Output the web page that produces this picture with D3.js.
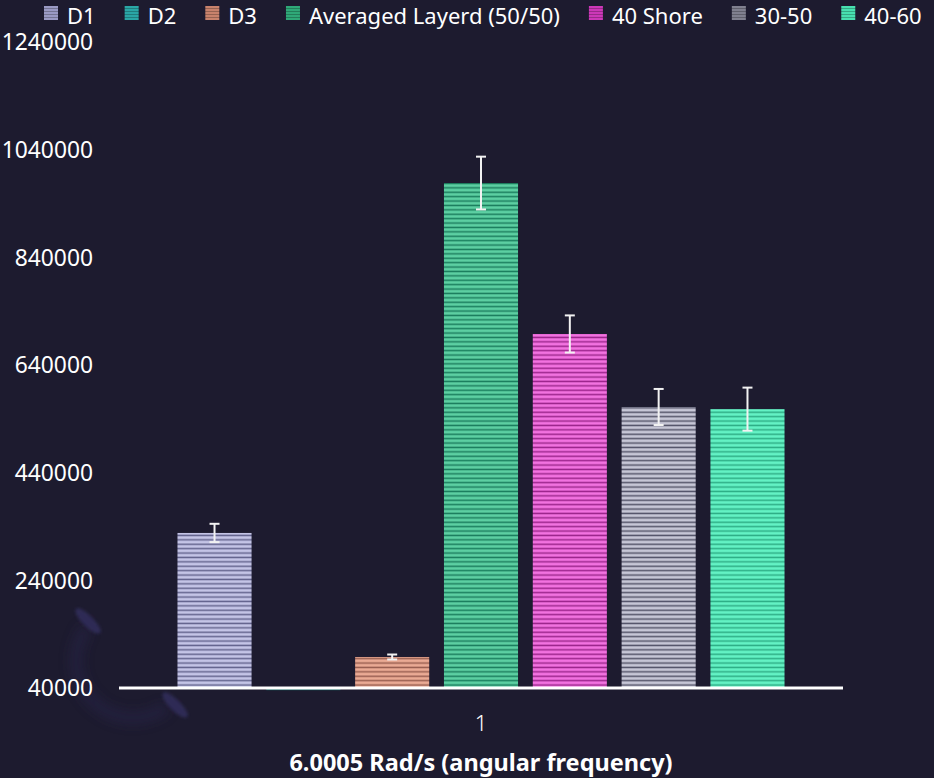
<!DOCTYPE html>
<html>
<head>
<meta charset="utf-8">
<script src="https://cdn.jsdelivr.net/npm/d3@7"></script>
<style>
  html, body { margin: 0; padding: 0; background: #1d1b2f; }
  svg { display: block; }
  text { font-family: "Noto Sans", "Open Sans", sans-serif; fill: #ffffff; }
</style>
</head>
<body>
<svg id="chart" width="934" height="778"></svg>
<script>
// ---------- data ----------
const categories = ["1"];
const seriesNames = ["D1", "D2", "D3", "Averaged Layerd (50/50)", "40 Shore", "30-50", "40-60"];
const seriesValues = [328000, 36000, 97600, 978000, 697600, 562000, 558000];
const seriesErrors = [17000, 0, 4600, 49000, 34500, 33500, 40000];
const yTicks = [40000, 240000, 440000, 640000, 840000, 1040000, 1240000];
const xTitle = "6.0005 Rad/s (angular frequency)";
const lightColors = ["#c4c4e6", "#3cc2c2", "#eaaa94", "#5ccfa2", "#f272e0", "#c6c6d6", "#64f2c4"];
const darkColors  = ["#64648e", "#1c7676", "#985e50", "#1c7e5e", "#9c268c", "#55556a", "#2eae86"];
const legendColors = ["#9a9ac4", "#2aa6a6", "#c8826c", "#2fa878", "#cc38b8", "#80808f", "#48e0b0"];

// ---------- setup ----------
const svg = d3.select("#chart");
const W = 934, H = 778;
const FONT = "'Noto Sans', 'Open Sans', sans-serif";
svg.append("rect").attr("width", W).attr("height", H).attr("fill", "#1d1b2f");

const defs = svg.append("defs");
seriesNames.forEach((s, i) => {
  const p = defs.append("pattern").attr("id", "pat" + i)
    .attr("patternUnits", "userSpaceOnUse").attr("width", 8).attr("height", 4.4);
  p.append("rect").attr("width", 8).attr("height", 4.4).attr("fill", lightColors[i]);
  p.append("rect").attr("y", 2.4).attr("width", 8).attr("height", 1.4).attr("fill", darkColors[i]);
  p.append("rect").attr("y", 2.0).attr("width", 8).attr("height", 0.5).attr("fill", d3.interpolateRgb(lightColors[i], darkColors[i])(0.5));
});
const blur = defs.append("filter").attr("id", "soft").attr("x", "-20%").attr("y", "-20%").attr("width", "140%").attr("height", "140%");
blur.append("feGaussianBlur").attr("stdDeviation", 0.5);
const bigBlur = defs.append("filter").attr("id", "deco").attr("x", "-50%").attr("y", "-50%").attr("width", "200%").attr("height", "200%");
bigBlur.append("feGaussianBlur").attr("stdDeviation", 6);
const smallBlur = defs.append("filter").attr("id", "deco2").attr("x", "-50%").attr("y", "-50%").attr("width", "200%").attr("height", "200%");
smallBlur.append("feGaussianBlur").attr("stdDeviation", 1.5);

// ---------- decorative watermark ----------
const deco = svg.append("g").attr("transform", "translate(133,661)");
const arc = d3.arc().innerRadius(51).outerRadius(63).startAngle(Math.PI * 0.8).endAngle(Math.PI * 1.7);
deco.append("path").attr("d", arc()).attr("fill", "#2a2850").attr("opacity", 0.45).attr("filter", "url(#deco)");
deco.append("ellipse").attr("cx", -45).attr("cy", -40).attr("rx", 17).attr("ry", 5.5)
  .attr("transform", "rotate(45,-45,-40)").attr("fill", "#2d2a54").attr("filter", "url(#deco2)");
deco.append("ellipse").attr("cx", 42).attr("cy", 44).attr("rx", 17).attr("ry", 5.5)
  .attr("transform", "rotate(45,42,44)").attr("fill", "#2d2a54").attr("filter", "url(#deco2)");

// ---------- scales ----------
const plotLeft = 119, plotRight = 843;
const y = d3.scaleLinear().domain([40000, 1240000]).range([688, 42]);
const x0 = d3.scaleBand().domain(categories).range([plotLeft, plotRight]).paddingInner(0).paddingOuter(0.0822);
const x1 = d3.scaleBand().domain(seriesNames).range([0, x0.bandwidth()]).paddingInner(0.166).paddingOuter(0.083);

// ---------- y axis labels ----------
const yAxis = d3.axisLeft(y).tickValues(yTicks).tickSize(0).tickPadding(0).tickFormat(d3.format("d"));
const yG = svg.append("g").attr("transform", "translate(93,0)").call(yAxis);
yG.select(".domain").remove();
yG.selectAll("text").attr("font-size", 22.8).attr("fill", "#ffffff").attr("dy", "0.34em")
  .style("font-family", FONT);

// ---------- bars ----------
const gBars = svg.append("g");
categories.forEach(cat => {
  seriesNames.forEach((s, i) => {
    const v = seriesValues[i];
    const bx = x0(cat) + x1(s);
    const y0 = y(40000), yv = y(v);
    gBars.append("rect")
      .attr("x", bx).attr("width", x1.bandwidth())
      .attr("y", Math.min(y0, yv)).attr("height", Math.abs(y0 - yv))
      .attr("fill", i === 1 ? "#1a6e6a" : `url(#pat${i})`)
      .attr("filter", "url(#soft)");
  });
});

// ---------- axis line ----------
svg.append("line").attr("x1", plotLeft).attr("x2", plotRight)
  .attr("y1", y(40000)).attr("y2", y(40000))
  .attr("stroke", "#ffffff").attr("stroke-width", 3);

// ---------- error bars ----------
const gErr = svg.append("g").attr("stroke", "#f2f2f2").attr("stroke-width", 2);
categories.forEach(cat => {
  seriesNames.forEach((s, i) => {
    const e = seriesErrors[i];
    if (!e) return;
    const cx = x0(cat) + x1(s) + x1.bandwidth() / 2;
    const v = seriesValues[i];
    const top = y(v + e), bot = y(v - e);
    gErr.append("line").attr("x1", cx).attr("x2", cx).attr("y1", top).attr("y2", bot);
    gErr.append("line").attr("x1", cx - 5).attr("x2", cx + 5).attr("y1", top).attr("y2", top);
    gErr.append("line").attr("x1", cx - 5).attr("x2", cx + 5).attr("y1", bot).attr("y2", bot);
  });
});

// ---------- x axis label ----------
categories.forEach(cat => {
  svg.append("text").attr("x", x0(cat) + x0.bandwidth() / 2).attr("y", 731)
    .attr("text-anchor", "middle").attr("font-size", 22).attr("font-weight", 300).text(cat);
});
svg.append("text").attr("x", (plotLeft + plotRight) / 2).attr("y", 771)
  .attr("text-anchor", "middle").attr("font-size", 23.5).attr("font-weight", "bold").text(xTitle);

// ---------- legend ----------
const leg = svg.append("g");
let lx = 44;
seriesNames.forEach((s, i) => {
  const g = leg.append("g").attr("transform", `translate(${lx},0)`);
  const pid = "lp" + i;
  const p = defs.append("pattern").attr("id", pid).attr("patternUnits", "userSpaceOnUse")
    .attr("width", 4).attr("height", 3);
  p.append("rect").attr("width", 4).attr("height", 3).attr("fill", legendColors[i]);
  p.append("rect").attr("y", 2).attr("width", 4).attr("height", 1).attr("fill", d3.color(legendColors[i]).darker(0.8));
  g.append("rect").attr("x", 0).attr("y", 6).attr("width", 14).attr("height", 14).attr("fill", `url(#${pid})`);
  const t = g.append("text").attr("x", 23).attr("y", 23.5).attr("font-size", 22).text(s);
  lx += 23 + t.node().getComputedTextLength() + 29;
});
</script>
</body>
</html>
